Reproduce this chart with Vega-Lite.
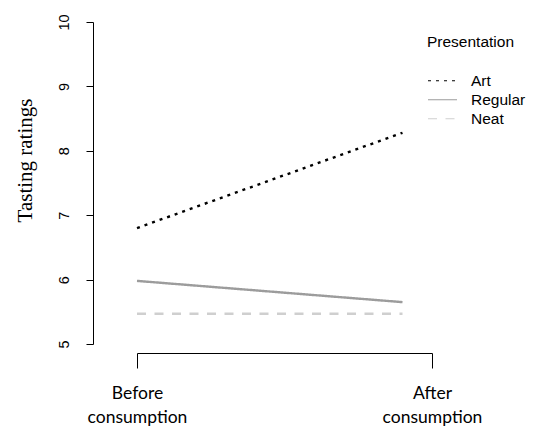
{
  "$schema": "https://vega.github.io/schema/vega-lite/v6.json",
  "autosize": {"type": "none"},
  "padding": {"left": 137, "top": 22, "right": 112, "bottom": 96},
  "width": 295,
  "height": 322,
  "background": "white",
  "config": {
    "view": {"stroke": null},
    "axis": {"grid": false, "domainColor": "black", "tickColor": "black", "labelColor": "black"},
    "legend": {
      "orient": "none",
      "legendX": 290,
      "legendY": 13,
      "symbolType": "stroke",
      "symbolSize": 841,
      "symbolStrokeWidth": 1.2,
      "clipHeight": 18.5,
      "rowPadding": 0,
      "labelOffset": 13,
      "labelFont": "Liberation Sans",
      "labelFontSize": 15.5,
      "labelColor": "black",
      "titleFont": "Liberation Sans",
      "titleFontSize": 15.5,
      "titleFontWeight": "normal",
      "titleColor": "black",
      "titlePadding": 21
    }
  },
  "data": {
    "values": [
      {"presentation": "Art", "time": 1, "rating": 6.8},
      {"presentation": "Art", "time": 1.9, "rating": 8.28},
      {"presentation": "Regular", "time": 1, "rating": 5.98},
      {"presentation": "Regular", "time": 1.9, "rating": 5.65},
      {"presentation": "Neat", "time": 1, "rating": 5.47},
      {"presentation": "Neat", "time": 1.9, "rating": 5.47}
    ]
  },
  "mark": {"type": "line", "clip": false, "strokeWidth": 2.4},
  "encoding": {
    "x": {
      "field": "time",
      "type": "quantitative",
      "scale": {"domain": [1, 2], "nice": false, "zero": false},
      "axis": {
        "title": null,
        "offset": 9,
        "values": [1, 2],
        "tickSize": 15,
        "labelExpr": "datum.value == 1 ? ['Before', 'consumption'] : ['After', 'consumption']",
        "labelFont": "Lato",
        "labelFontSize": 17.5,
        "labelLineHeight": 24,
        "labelPadding": 16,
        "labelBaseline": "top",
        "labelFlush": false,
        "labelBound": false,
        "labelOverlap": false
      }
    },
    "y": {
      "field": "rating",
      "type": "quantitative",
      "scale": {"domain": [5, 10], "nice": false, "zero": false},
      "axis": {
        "title": "Tasting ratings",
        "offset": 44,
        "values": [5, 6, 7, 8, 9, 10],
        "tickSize": 7,
        "labelAngle": 270,
        "labelFont": "Liberation Sans",
        "labelFontSize": 14.5,
        "labelPadding": 15,
        "titleFont": "Liberation Serif",
        "titleFontSize": 21,
        "titleFontWeight": "normal",
        "titleColor": "black",
        "titlePadding": 21,
        "titleY": 138
      }
    },
    "color": {
      "field": "presentation",
      "type": "nominal",
      "title": "Presentation",
      "scale": {"domain": ["Art", "Regular", "Neat"], "range": ["black", "#9c9c9c", "#cfcfcf"]}
    },
    "strokeDash": {
      "field": "presentation",
      "type": "nominal",
      "title": "Presentation",
      "scale": {"domain": ["Art", "Regular", "Neat"], "range": [[3, 5], [1, 0], [9, 8.5]]}
    }
  }
}
